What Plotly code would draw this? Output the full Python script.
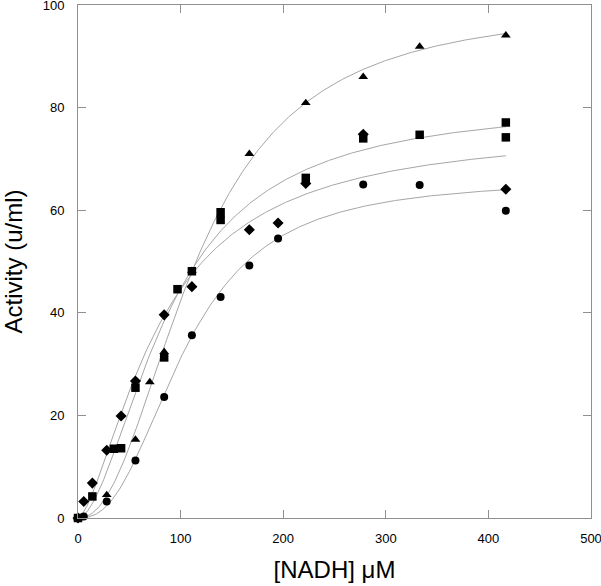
import numpy as np
import plotly.graph_objects as go

# ---- data ----
tri_x = [0, 28, 56, 70, 84, 111, 167, 222, 278, 333, 417]
tri_y = [0, 4.5, 15.3, 26.5, 32.4, 48.2, 71.0, 80.9, 86.0, 91.9, 94.1]

sq_x = [0, 14, 35, 42, 56, 84, 97, 111, 139, 139, 222, 278, 333, 417, 417]
sq_y = [0, 4.2, 13.5, 13.6, 25.4, 31.3, 44.6, 48.1, 59.6, 58.1, 66.3, 74.0, 74.7, 77.1, 74.2]

dia_x = [0, 5.6, 14, 28, 42, 56, 84, 111, 167, 195, 222, 278, 417]
dia_y = [0, 3.2, 6.8, 13.2, 19.9, 26.7, 39.6, 45.1, 56.2, 57.5, 65.2, 74.8, 64.1]

cir_x = [0, 5.6, 28, 56, 84, 111, 139, 167, 195, 278, 333, 417]
cir_y = [0, 0.3, 3.2, 11.2, 23.6, 35.6, 43.1, 49.2, 54.5, 65.0, 64.9, 59.9]

# Hill-fit parameters (Vmax, K, n) for the four fitted curves
fit_vmax = [100, 81, 76, 66]
fit_k = [115, 89, 79.9, 104.5]
fit_n = [2.2, 1.8, 1.557, 2.5]
fit_xmax = 417

x_ticks = [0, 100, 200, 300, 400, 500]
y_ticks = [0, 20, 40, 60, 80, 100]

fig = go.Figure()

xs = np.linspace(0, fit_xmax, 300)
for vm, k, n in zip(fit_vmax, fit_k, fit_n):
    ys = vm * xs**n / (k**n + xs**n)
    fig.add_trace(go.Scatter(x=xs, y=ys, mode="lines",
                             line=dict(color="#a6a6a6", width=1),
                             hoverinfo="skip", showlegend=False))

def add_markers(x, y, symbol, size):
    fig.add_trace(go.Scatter(x=x, y=y, mode="markers",
                             marker=dict(symbol=symbol, size=size, color="black",
                                         line=dict(width=0)),
                             showlegend=False, cliponaxis=False))

add_markers(cir_x, cir_y, "circle", 8)
add_markers(dia_x, dia_y, "diamond", 8.5)
add_markers(sq_x, sq_y, "square", 8.5)
add_markers(tri_x, tri_y, "triangle-up", 8.5)

FONT = "Liberation Sans, Arial"
axis_common = dict(showline=True, linecolor="#8f8f8f", linewidth=1, mirror="ticks",
                   ticks="inside", ticklen=8, tickcolor="#8f8f8f", tickwidth=1,
                   showgrid=False, zeroline=False, ticklabeloverflow="allow",
                   automargin=False,
                   tickfont=dict(family=FONT, size=13, color="black"))

fig.update_xaxes(range=[0, 500], tickvals=x_ticks, ticklabelstandoff=8,
                 title=dict(text="[NADH] μM", standoff=16,
                            font=dict(family=FONT, size=24, color="black")),
                 **axis_common)
fig.update_yaxes(range=[0, 100], tickvals=y_ticks, ticklabelstandoff=10,
                 title=dict(text="Activity (u/ml)", standoff=20,
                            font=dict(family=FONT, size=24, color="black")),
                 **axis_common)

fig.update_layout(width=601, height=586,
                  margin=dict(l=77.5, r=10, t=5, b=68),
                  plot_bgcolor="white", paper_bgcolor="white")

fig.write_html("out.html", config={"displayModeBar": False},
               post_script="document.body.style.margin='0';document.body.style.padding='0';")
